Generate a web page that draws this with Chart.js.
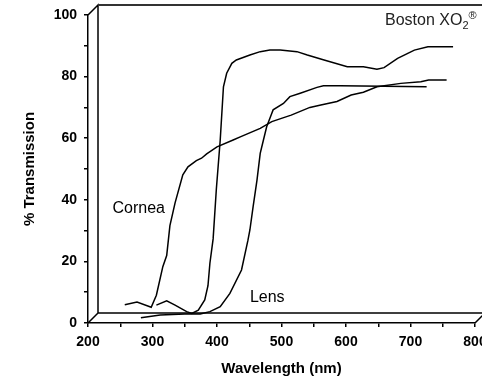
<!DOCTYPE html>
<html>
<head>
<meta charset="utf-8">
<script src="https://cdn.jsdelivr.net/npm/chart.js@4"></script>
<style>
  html, body { margin: 0; padding: 0; background: #fff; }
  #wrap { width: 482px; height: 378px; }
</style>
</head>
<body>
<div id="wrap"><canvas id="chart" width="482" height="378"></canvas></div>
<script>
// values (nm, % transmission)
const corneaNm  = [257, 276, 298, 306, 316, 322, 327, 335, 347, 355, 368, 376, 384, 400, 425, 437, 467, 485, 508, 515, 544, 561, 586, 608, 627, 648, 685, 716, 728, 756];
const corneaPct = [5.9, 6.8, 5.1, 9.0, 18.3, 21.9, 31.6, 39.0, 48.1, 50.7, 52.7, 53.5, 54.9, 57.2, 59.4, 60.5, 63.2, 65.4, 67.0, 67.5, 70.0, 70.8, 71.9, 74.0, 74.9, 76.7, 77.8, 78.3, 78.9, 78.9];

const xo2Nm  = [306, 322, 335, 353, 361, 371, 381, 386, 389, 394, 399, 405, 410, 415, 423, 430, 451, 467, 482, 498, 524, 540, 566, 602, 627, 648, 659, 680, 706, 727, 766];
const xo2Pct = [5.8, 7.2, 5.8, 3.7, 3.1, 4.2, 7.5, 12.1, 19.4, 27.3, 43.5, 59.4, 76.7, 81.1, 84.3, 85.4, 87.0, 88.1, 88.6, 88.6, 88.1, 87.0, 85.4, 83.2, 83.2, 82.4, 82.9, 85.9, 88.6, 89.7, 89.7];

const lensNm  = [282, 312, 350, 374, 389, 405, 420, 438, 448, 451, 456, 462, 467, 472, 477, 485, 487, 503, 513, 529, 555, 565, 591, 725];
const lensPct = [1.7, 2.6, 2.9, 2.9, 3.7, 5.3, 9.6, 17.2, 26.9, 30.2, 37.8, 46.4, 55.1, 59.4, 63.7, 68.1, 69.2, 71.3, 73.5, 74.6, 76.5, 77.0, 77.0, 76.7];

const xTicksMajor = [200, 300, 400, 500, 600, 700, 800];
const yTicksMajor = [0, 20, 40, 60, 80, 100];

const DEPTH = 10; // offset of the back wall

const toPts = (xs, ys) => xs.map((x, i) => ({ x, y: ys[i] }));

const serie = (label, xs, ys) => ({
    label,
    data: toPts(xs, ys),
    borderColor: "#000",
    borderWidth: 1.5,
    pointRadius: 0,
    tension: 0,
    fill: false,
});

// back wall / floor of the pseudo 3D box, plus the curve labels
const boxPlugin = {
    id: "box",
    beforeDatasetsDraw(chart) {
        const { ctx, scales: { x, y } } = chart;
        const l = x.getPixelForValue(200), r = x.getPixelForValue(800);
        const t = y.getPixelForValue(100), b = y.getPixelForValue(0);
        ctx.save();
        ctx.strokeStyle = "#000";
        ctx.lineWidth = 1.5;
        ctx.beginPath();
        ctx.moveTo(l, t); ctx.lineTo(l + DEPTH, t - DEPTH);
        ctx.lineTo(l + DEPTH, b - DEPTH);
        ctx.lineTo(r + DEPTH + 20, b - DEPTH);
        ctx.moveTo(l, b); ctx.lineTo(l + DEPTH, b - DEPTH);
        ctx.moveTo(r, b); ctx.lineTo(r + DEPTH, b - DEPTH);
        ctx.stroke();
        ctx.strokeStyle = "#333";
        ctx.lineWidth = 2;
        ctx.beginPath();
        ctx.moveTo(l + DEPTH, t - DEPTH); ctx.lineTo(r + DEPTH + 20, t - DEPTH);
        ctx.stroke();
        ctx.restore();
    },
    afterDraw(chart) {
        const { ctx, scales: { x, y } } = chart;
        ctx.save();
        ctx.fillStyle = "#000";
        ctx.textBaseline = "middle";
        ctx.font = "16px 'Liberation Sans', Arial, sans-serif";
        ctx.textAlign = "left";
        ctx.fillText("Cornea", x.getPixelForValue(238), y.getPixelForValue(37.3));
        ctx.fillText("Lens", x.getPixelForValue(451), y.getPixelForValue(8.4));
        // Boston XO2®
        ctx.fillStyle = "#222";
        const bx = 385, by = 21;
        ctx.fillText("Boston XO", bx, by);
        const w = ctx.measureText("Boston XO").width;
        ctx.font = "11px 'Liberation Sans', Arial, sans-serif";
        ctx.fillText("2", bx + w, by + 5);
        ctx.fillText("®", bx + w + 6, by - 5);
        ctx.restore();
    },
};

const tickFont = { family: "'Liberation Sans', Arial, sans-serif", size: 14, weight: "bold" };
const titleFont = { family: "'Liberation Sans', Arial, sans-serif", size: 15, weight: "bold" };

new Chart(document.getElementById("chart").getContext("2d"), {
    type: "line",
    data: {
        datasets: [
            serie("Cornea", corneaNm, corneaPct),
            serie("Boston XO2", xo2Nm, xo2Pct),
            serie("Lens", lensNm, lensPct),
        ],
    },
    options: {
        responsive: false,
        animation: false,
        layout: { padding: { top: 15, right: 7, left: 0, bottom: 0 } },
        plugins: { legend: { display: false }, tooltip: { enabled: false } },
        scales: {
            x: {
                type: "linear",
                min: 200,
                max: 800,
                grid: { drawOnChartArea: false, tickLength: 4, color: "#000", lineWidth: 1.5 },
                border: { color: "#000", width: 1.5 },
                ticks: {
                    stepSize: 50,
                    autoSkip: false,
                    maxRotation: 0,
                    padding: 7,
                    color: "#000",
                    font: tickFont,
                    callback: (v) => (xTicksMajor.includes(v) ? v : ""),
                },
                title: { display: true, text: "Wavelength (nm)", color: "#000", font: titleFont, padding: { top: 0, bottom: 0 } },
                afterFit(s) { s.height = 55; s.paddingLeft = 0; s.paddingRight = 0; },
            },
            y: {
                min: 0,
                max: 100,
                grid: { drawOnChartArea: false, tickLength: 4, color: "#000", lineWidth: 1.5 },
                border: { color: "#000", width: 1.5 },
                ticks: {
                    stepSize: 10,
                    autoSkip: false,
                    padding: 7,
                    color: "#000",
                    font: tickFont,
                    callback: (v) => (yTicksMajor.includes(v) ? v : ""),
                },
                title: { display: true, text: "% Transmission", color: "#000", font: titleFont, padding: { top: 21, bottom: 0 } },
                afterFit(s) { s.width = 88; s.paddingTop = 0; s.paddingBottom = 0; },
            },
        },
    },
    plugins: [boxPlugin],
});
</script>
</body>
</html>
